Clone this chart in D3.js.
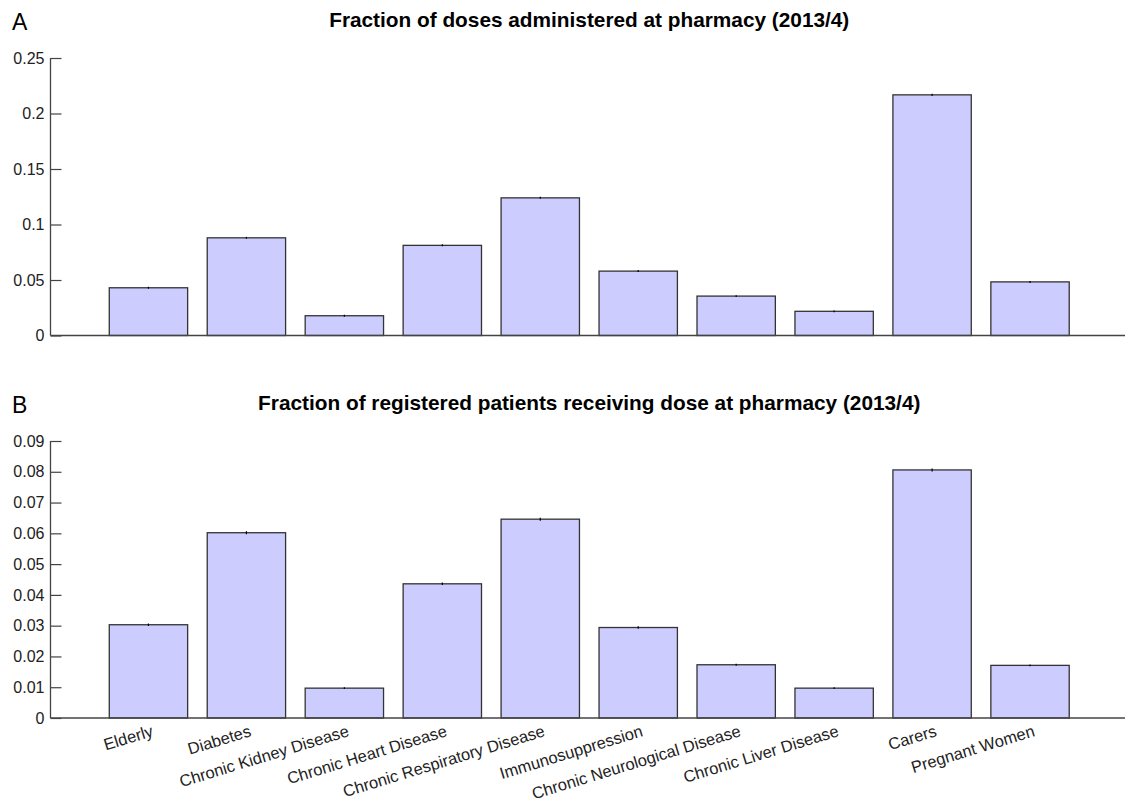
<!DOCTYPE html>
<html>
<head>
<meta charset="utf-8">
<script src="https://cdn.jsdelivr.net/npm/d3@7"></script>
<style>
  body { margin: 0; background: #fff; }
  svg { display: block; font-family: "Liberation Sans", Arial, Helvetica, sans-serif; }
</style>
</head>
<body>
<svg id="chart" width="1125" height="805"></svg>
<script>
// categories shared by both panels
const categories = ["Elderly", "Diabetes", "Chronic Kidney Disease", "Chronic Heart Disease",
    "Chronic Respiratory Disease", "Immunosuppression", "Chronic Neurological Disease",
    "Chronic Liver Disease", "Carers", "Pregnant Women"];

// panel A: fraction of doses administered at pharmacy
const valuesA = [0.0430, 0.0880, 0.0178, 0.0812, 0.1240, 0.0580, 0.0355, 0.0218, 0.2168, 0.0483];
const errorsA = [0.0009, 0.0009, 0.0008, 0.0009, 0.0009, 0.0009, 0.0008, 0.0008, 0.0010, 0.0009];
const ticksA = [0, 0.05, 0.1, 0.15, 0.2, 0.25];

// panel B: fraction of registered patients receiving dose at pharmacy
const valuesB = [0.0303, 0.0602, 0.0097, 0.0436, 0.0646, 0.0294, 0.0173, 0.0097, 0.0806, 0.0171];
const errorsB = [0.0004, 0.0005, 0.0003, 0.0004, 0.0005, 0.0004, 0.0003, 0.0003, 0.0005, 0.0003];
const ticksB = [0, 0.01, 0.02, 0.03, 0.04, 0.05, 0.06, 0.07, 0.08, 0.09];

const titles = ["Fraction of doses administered at pharmacy (2013/4)",
    "Fraction of registered patients receiving dose at pharmacy (2013/4)"];

const svg = d3.select("#chart");
const axisColor = "#444";

const x = d3.scaleLinear()
    .domain([0, categories.length + 1])
    .range([50.5, 1128]);
const barWidth = (x(1) - x(0)) * 0.8;

function panel(opts) {
    const y = d3.scaleLinear()
        .domain([0, opts.ticks[opts.ticks.length - 1]])
        .range([opts.bottom, opts.top]);

    const g = svg.append("g");

    // panel letter + title
    g.append("text")
        .attr("x", 12).attr("y", opts.top - 28)
        .attr("font-size", 23)
        .text(opts.letter);
    g.append("text")
        .attr("x", (x.range()[0] + x.range()[1]) / 2)
        .attr("y", opts.top - 31)
        .attr("text-anchor", "middle")
        .attr("font-size", 20.8)
        .attr("font-weight", "bold")
        .text(opts.title);

    // bars
    g.append("g")
      .selectAll("rect")
      .data(opts.values)
      .join("rect")
        .attr("x", (d, i) => x(i + 1) - barWidth / 2)
        .attr("y", d => y(d))
        .attr("width", barWidth)
        .attr("height", d => y(0) - y(d))
        .attr("fill", "#ccccff")
        .attr("stroke", "#333")
        .attr("stroke-width", 1.3);

    // error bars
    g.append("g")
      .selectAll("line")
      .data(opts.values)
      .join("line")
        .attr("x1", (d, i) => x(i + 1))
        .attr("x2", (d, i) => x(i + 1))
        .attr("y1", (d, i) => y(d - opts.errors[i]))
        .attr("y2", (d, i) => y(d + opts.errors[i]))
        .attr("stroke", "#000")
        .attr("stroke-width", 1.2);

    // y axis, ticks pointing inward
    const yAxis = g.append("g")
        .attr("transform", `translate(${x.range()[0]},0)`)
        .call(d3.axisRight(y).tickValues(opts.ticks).tickSize(11).tickFormat(d3.format("~g")));
    yAxis.select(".domain").remove();
    yAxis.selectAll(".tick line").attr("stroke", axisColor).attr("stroke-width", 1.2);
    yAxis.selectAll(".tick text")
        .attr("x", -6)
        .attr("text-anchor", "end")
        .attr("font-size", 16)
        .attr("fill", "#222");
    g.append("line")
        .attr("x1", x.range()[0]).attr("x2", x.range()[0])
        .attr("y1", opts.top).attr("y2", opts.bottom)
        .attr("stroke", axisColor).attr("stroke-width", 1.3);

    // x axis line
    g.append("line")
        .attr("x1", x.range()[0]).attr("x2", 1125)
        .attr("y1", opts.bottom).attr("y2", opts.bottom)
        .attr("stroke", axisColor).attr("stroke-width", 1.3);

    if (opts.labels) {
        g.append("g")
          .selectAll("text")
          .data(categories)
          .join("text")
            .attr("transform", (d, i) => `translate(${x(i + 1) + 2},${opts.bottom + 6}) rotate(-17)`)
            .attr("text-anchor", "end")
            .attr("dy", "0.75em")
            .attr("font-size", 16.5)
            .attr("fill", "#222")
            .text(d => d);
    }
}

panel({letter: "A", title: titles[0], values: valuesA, errors: errorsA, ticks: ticksA,
       top: 58, bottom: 335.5, labels: false});
panel({letter: "B", title: titles[1], values: valuesB, errors: errorsB, ticks: ticksB,
       top: 441, bottom: 718, labels: true});
</script>
</body>
</html>
